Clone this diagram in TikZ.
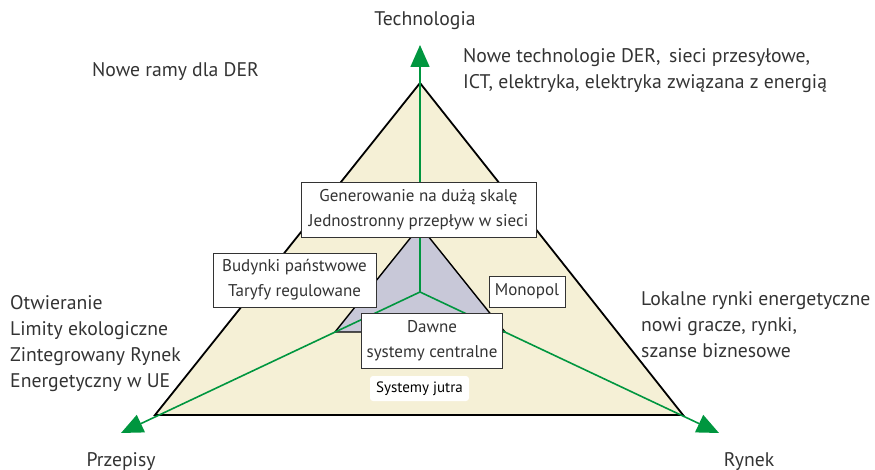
\documentclass[tikz,border=0pt]{standalone}
\usepackage{fontspec}
\setmainfont{PT Sans}
\usetikzlibrary{arrows.meta}
\definecolor{cream}{HTML}{F5F0D6}
\definecolor{axisgreen}{HTML}{00963F}
\definecolor{core}{HTML}{C8C8D8}
\definecolor{ink}{HTML}{333333}
\begin{document}
\begin{tikzpicture}[x=1pt,y=-1pt,
  txt/.style={font=\fontsize{19.7}{26}\selectfont, text=ink, inner sep=0pt, align=left},
  labelbox/.style={draw=ink, line width=0.9pt, fill=white, font=\fontsize{17}{25}\selectfont,
    text=ink, align=center, inner sep=0pt},
  axis/.style={draw=axisgreen, line width=1.6pt},
  axisarrow/.style={axis, -{Triangle[length=22pt,width=19pt]}}]
\useasboundingbox (0,0) rectangle (875,470);

% outer field
\coordinate (T) at (420,83);
\coordinate (L) at (155,415);
\coordinate (R) at (683,415);
\coordinate (C) at (420,292);
\fill[cream] (T) -- (L) -- (R) -- cycle;
\draw[line width=1.8pt, line join=miter] (T) -- (L) -- (R) -- cycle;

% inner core triangle
\coordinate (iT) at (420,226);
\coordinate (iL) at (335,332);
\coordinate (iR) at (505,332);
\filldraw[fill=core, draw=black, line width=1.4pt] (iT) -- (iL) -- (iR) -- cycle;

% axes
\coordinate (tipT) at (420,45);
\coordinate (tipL) at (121,433);
\coordinate (tipR) at (719,433);
\draw[axisarrow] (C) -- (tipT);
\draw[axisarrow] (C) -- (tipL);
\draw[axisarrow] (C) -- (tipR);

% boxes
\node[labelbox, minimum width=235pt, minimum height=55pt] (gen) at (418.5,209.5)
  {Generowanie na dużą skalę\\Jednostronny przepływ w sieci};
\node[labelbox, minimum width=163pt, minimum height=54pt] (bud) at (294.5,280)
  {Budynki państwowe\\Taryfy regulowane};
\node[labelbox, minimum width=76pt, minimum height=31pt] (mono) at (527,291.5) {Monopol};
\node[labelbox, minimum width=141pt, minimum height=55pt] (dawne) at (432,341)
  {Dawne\\systemy centralne};
\node[fill=white!97!cream, rounded corners=3pt, minimum width=99pt, minimum height=25pt,
  inner sep=0pt, font=\fontsize{15}{16}\selectfont, text=black] (jutra) at (419.5,388.5)
  {Systemy jutra};

% axis labels
\node[txt, anchor=center] (lt) at (425,21) {Technologia};
\node[txt, anchor=center] (lp) at (121,462) {Przepisy};
\node[txt, anchor=center] (lr) at (749,462) {Rynek};

% descriptions
\node[txt, anchor=west] (nr) at (92,72) {Nowe ramy dla DER};
\node[txt, anchor=north west] (nt) at (463,48)
  {Nowe technologie DER,\, sieci przesyłowe,\\ICT, elektryka, elektryka związana z energią};
\node[txt, anchor=north west] (op) at (10,295)
  {Otwieranie\\Limity ekologiczne\\Zintegrowany Rynek\\Energetyczny w UE};
\node[txt, anchor=north west] (lk) at (641,291)
  {Lokalne rynki energetyczne\\nowi gracze, rynki,\\szanse biznesowe};
\end{tikzpicture}
\end{document}
